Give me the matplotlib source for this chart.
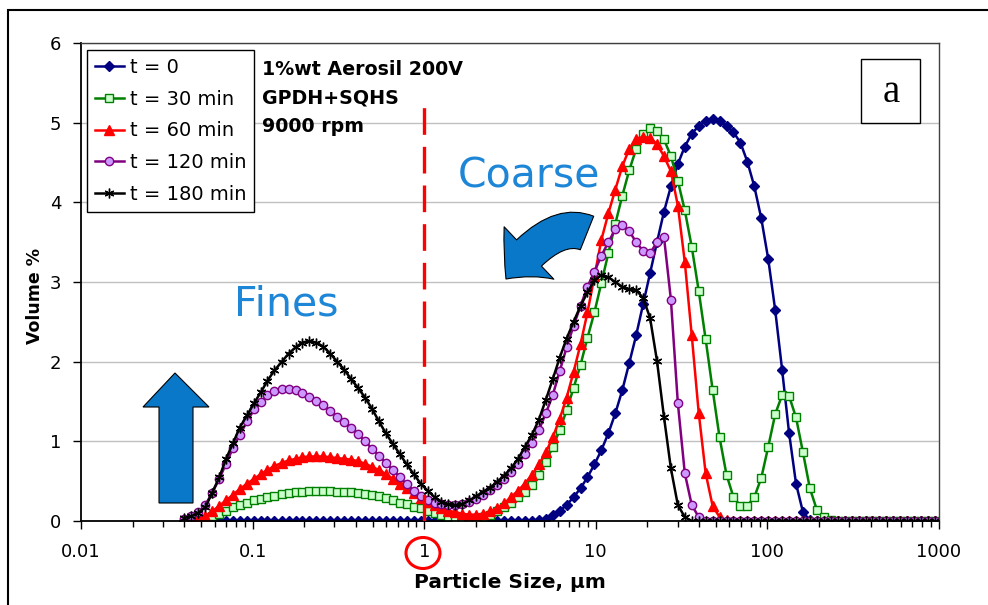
import numpy as np
import matplotlib.pyplot as plt
from matplotlib.patches import Rectangle, Polygon, FancyArrowPatch, Ellipse
from matplotlib.path import Path

W, H = 988, 605

# size classes (um) of the analyser
size_um = [0.040, 0.044, 0.048, 0.053, 0.058, 0.064, 0.070, 0.077, 0.084, 0.093,
           0.102, 0.112, 0.122, 0.134, 0.148, 0.162, 0.178, 0.195, 0.214, 0.235,
           0.258, 0.284, 0.311, 0.342, 0.375, 0.412, 0.452, 0.496, 0.545, 0.598,
           0.656, 0.721, 0.791, 0.868, 0.953, 1.047, 1.149, 1.261, 1.385, 1.520,
           1.668, 1.832, 2.011, 2.207, 2.423, 2.660, 2.920, 3.206, 3.519, 3.863,
           4.241, 4.656, 5.111, 5.611, 6.159, 6.761, 7.422, 8.148, 8.944, 9.819,
           10.78, 11.83, 12.99, 14.26, 15.65, 17.18, 18.86, 20.71, 22.73, 24.95,
           27.39, 30.07, 33.01, 36.24, 39.78, 43.67, 47.94, 52.62, 57.77, 63.41,
           69.61, 76.42, 83.89, 92.09, 101.1, 111.0, 121.8, 133.7, 146.8, 161.2,
           176.8, 194.2, 213.2, 234.1, 256.9, 282.1, 309.6, 339.9, 373.1, 409.6,
           449.7, 493.6, 541.9, 594.9, 653.0, 716.9, 786.9, 863.9, 948.3]

# volume % per size class
t0 = [0] * 51 + [0.01, 0.03, 0.07, 0.13, 0.20, 0.30, 0.41, 0.55, 0.71,
                 0.89, 1.10, 1.35, 1.64, 1.98, 2.33, 2.72, 3.11, 3.50, 3.88,
                 4.20, 4.48, 4.70, 4.86, 4.96, 5.02, 5.04, 5.02, 4.96, 4.88,
                 4.75, 4.51, 4.20, 3.80, 3.29, 2.65, 1.90, 1.11, 0.47, 0.11,
                 0.01] + [0] * 18

t30 = [0.00, 0.00, 0.01, 0.03, 0.06, 0.09, 0.13, 0.17, 0.20, 0.23,
       0.26, 0.28, 0.30, 0.32, 0.34, 0.35, 0.36, 0.37, 0.38, 0.38,
       0.38, 0.38, 0.37, 0.37, 0.36, 0.35, 0.34, 0.33, 0.31, 0.29,
       0.26, 0.23, 0.21, 0.18, 0.16, 0.13, 0.10, 0.07, 0.05, 0.03,
       0.02, 0.02, 0.03, 0.05, 0.08, 0.12, 0.17, 0.23, 0.30, 0.37,
       0.45, 0.58, 0.74, 0.93, 1.14, 1.39, 1.67, 1.96, 2.30, 2.62,
       2.99, 3.36, 3.73, 4.08, 4.40, 4.67, 4.86, 4.93, 4.90, 4.79,
       4.58, 4.27, 3.90, 3.44, 2.89, 2.28, 1.65, 1.05, 0.58, 0.30,
       0.19, 0.19, 0.30, 0.54, 0.93, 1.34, 1.58, 1.57, 1.30, 0.86,
       0.41, 0.14, 0.05, 0.01] + [0] * 15

t60 = [0.00, 0.01, 0.03, 0.06, 0.12, 0.19, 0.26, 0.33, 0.40, 0.47,
       0.53, 0.59, 0.64, 0.69, 0.73, 0.76, 0.78, 0.80, 0.81, 0.81,
       0.81, 0.80, 0.79, 0.78, 0.77, 0.75, 0.72, 0.68, 0.64, 0.59,
       0.53, 0.47, 0.41, 0.35, 0.29, 0.24, 0.20, 0.16, 0.13, 0.11,
       0.09, 0.08, 0.08, 0.09, 0.12, 0.16, 0.22, 0.30, 0.38, 0.47,
       0.58, 0.71, 0.86, 1.05, 1.28, 1.55, 1.87, 2.22, 2.62, 3.07,
       3.53, 3.86, 4.16, 4.45, 4.67, 4.80, 4.82, 4.81, 4.73, 4.58,
       4.39, 3.96, 3.25, 2.33, 1.36, 0.60, 0.19, 0.05, 0.01] + [0] * 30

t120 = [0.03, 0.06, 0.11, 0.20, 0.35, 0.53, 0.72, 0.92, 1.08, 1.25,
        1.40, 1.50, 1.58, 1.63, 1.66, 1.66, 1.64, 1.61, 1.56, 1.51,
        1.45, 1.38, 1.31, 1.24, 1.17, 1.09, 1.00, 0.91, 0.82, 0.73,
        0.64, 0.55, 0.46, 0.38, 0.31, 0.26, 0.23, 0.21, 0.20, 0.20,
        0.21, 0.24, 0.28, 0.33, 0.39, 0.45, 0.53, 0.62, 0.72, 0.84,
        0.98, 1.14, 1.35, 1.58, 1.88, 2.18, 2.45, 2.70, 2.94, 3.13,
        3.33, 3.50, 3.66, 3.71, 3.64, 3.50, 3.39, 3.36, 3.50, 3.57,
        2.78, 1.48, 0.60, 0.20, 0.05] + [0] * 34

t180 = [0.04, 0.06, 0.10, 0.17, 0.35, 0.55, 0.78, 0.98, 1.17, 1.33,
        1.48, 1.62, 1.76, 1.89, 2.00, 2.10, 2.18, 2.24, 2.26, 2.24,
        2.19, 2.10, 2.00, 1.90, 1.78, 1.67, 1.55, 1.41, 1.25, 1.10,
        0.97, 0.84, 0.71, 0.59, 0.47, 0.38, 0.30, 0.24, 0.21, 0.20,
        0.21, 0.26, 0.31, 0.37, 0.42, 0.49, 0.57, 0.66, 0.78, 0.93,
        1.08, 1.27, 1.52, 1.78, 2.05, 2.29, 2.50, 2.70, 2.87, 3.02,
        3.09, 3.06, 3.00, 2.94, 2.91, 2.90, 2.80, 2.55, 2.01, 1.31,
        0.66, 0.20, 0.05] + [0] * 36

labels = ['t = 0', 't = 30 min', 't = 60 min', 't = 120 min', 't = 180 min']
xticks = [0.01, 0.1, 1, 10, 100, 1000]
xticklabels = ['0.01', '0.1', '1', '10', '100', '1000']
yticks = [0, 1, 2, 3, 4, 5, 6]
cut_size = 1.0
cut_top = 5.27

ARROW = '#0A78C8'
TEXTBLUE = '#1E86D6'


def fxy(x, y):
    # image pixel -> figure fraction
    return x / W, 1 - y / H


fig = plt.figure(figsize=(W / 100, H / 100), dpi=100)
ax = fig.add_axes([81 / W, 1 - 521 / H, (939 - 81) / W, (521 - 43) / H])

styles = [
    dict(color='#000080', marker='D', ms=4.8, mfc='#000080', mec='#000080'),
    dict(color='#008000', marker='s', ms=6, mfc='#CCFFCC', mec='#008000', mew=1),
    dict(color='#FF0000', marker='^', ms=6.5, mfc='#FF0000', mec='#FF0000'),
    dict(color='#800080', marker='o', ms=6, mfc='#CC99FF', mec='#800080', mew=1),
    dict(color='black', marker=(6, 2, 0), ms=7, mfc='black', mec='black', mew=1),
]
for ys, lab, st in zip([t0, t30, t60, t120, t180], labels, styles):
    ax.plot(size_um, ys, lw=1.8, label=lab, **st)

ax.axvline(cut_size, ymin=0, ymax=cut_top / 6, color='red', lw=2.4,
           ls=(0, (8, 3.6)), zorder=6)

ax.set_xscale('log')
ax.set_xlim(0.01, 1000)
ax.set_ylim(0, 6)
ax.set_xticks(xticks)
ax.set_xticklabels(xticklabels)
ax.set_xticks([m * d for d in [0.01, 0.1, 1, 10, 100] for m in range(2, 10)], minor=True)
ax.xaxis.set_minor_formatter(plt.NullFormatter())
ax.set_yticks(yticks)
ax.set_yticklabels([str(v) for v in yticks])
ax.tick_params(axis='x', which='major', direction='out', length=6, width=1,
               pad=10, labelsize=13)
ax.tick_params(axis='x', which='minor', direction='out', length=4, width=1)
ax.tick_params(axis='y', direction='out', length=6, width=1, pad=8, labelsize=13)
ax.yaxis.grid(True, color='#C0C0C0', lw=1)
ax.set_axisbelow(True)
for s in ['top', 'right']:
    ax.spines[s].set_color('#404040')
    ax.spines[s].set_linewidth(1)
for s in ['left', 'bottom']:
    ax.spines[s].set_linewidth(1.3)

ax.set_xlabel('Particle Size, µm', fontsize=14.5, fontweight='bold')
ax.xaxis.set_label_coords(0.5, (521 - 573) / 478)
ax.set_ylabel('Volume %', fontsize=12.5, fontweight='bold')
ax.yaxis.set_label_coords((44 - 81) / 858, (521 - 296) / 478)

leg = ax.legend(loc='upper left', bbox_to_anchor=((87 - 81) / 858, (521 - 50) / 478),
                borderaxespad=0, fancybox=False, edgecolor='black', framealpha=1,
                fontsize=14, handlelength=1.5, handletextpad=0.3,
                labelspacing=0.66, borderpad=0.4)
leg.get_frame().set_linewidth(1)

# condition text
for txt, yb in zip(['1%wt Aerosil 200V', 'GPDH+SQHS', '9000 rpm'], [75, 104, 132]):
    fig.text(*fxy(262, yb), txt, fontsize=13.7, fontweight='bold', va='baseline')

fig.text(*fxy(286, 305), 'Fines', fontsize=29.5, color=TEXTBLUE, ha='center', va='center')
fig.text(*fxy(529, 177), 'Coarse', fontsize=29.5, color=TEXTBLUE, ha='center', va='center')

# up arrow
up = [(175, 373), (209, 407), (193, 407), (193, 503), (159, 503), (159, 407), (143, 407)]
fig.patches.append(Polygon([fxy(*p) for p in up], closed=True, transform=fig.transFigure,
                           fc=ARROW, ec='black', lw=0.8))

# curved arrow (quadratic bezier: tail, control, tip)
curve = Path([fxy(587, 233), fxy(552, 219), fxy(506, 279)],
             [Path.MOVETO, Path.CURVE3, Path.CURVE3])
fig.patches.append(FancyArrowPatch(path=curve, transform=fig.transFigure,
                                   arrowstyle='simple,head_length=25,head_width=52,tail_width=26',
                                   mutation_scale=1, fc=ARROW, ec='black', lw=0.8))

# red circle round the "1" tick label
fig.patches.append(Ellipse(fxy(423, 553), 34 / W, 31 / H, transform=fig.transFigure,
                           fill=False, ec='red', lw=2.2))

# panel letter
x0, y0 = fxy(861, 123)
fig.patches.append(Rectangle((x0, y0), (920 - 861) / W, (123 - 59) / H,
                             transform=fig.transFigure, fc='white', ec='black', lw=1))
fig.text(*fxy(891, 93), 'a', fontsize=28, family='Liberation Serif', ha='center', va='center')

# outer frame
fig.patches.append(Rectangle((8 / W, -0.1), 1.2, 1.1 - 10 / H, transform=fig.transFigure,
                             fill=False, ec='black', lw=1.5))

fig.savefig('out.png', dpi=100)
